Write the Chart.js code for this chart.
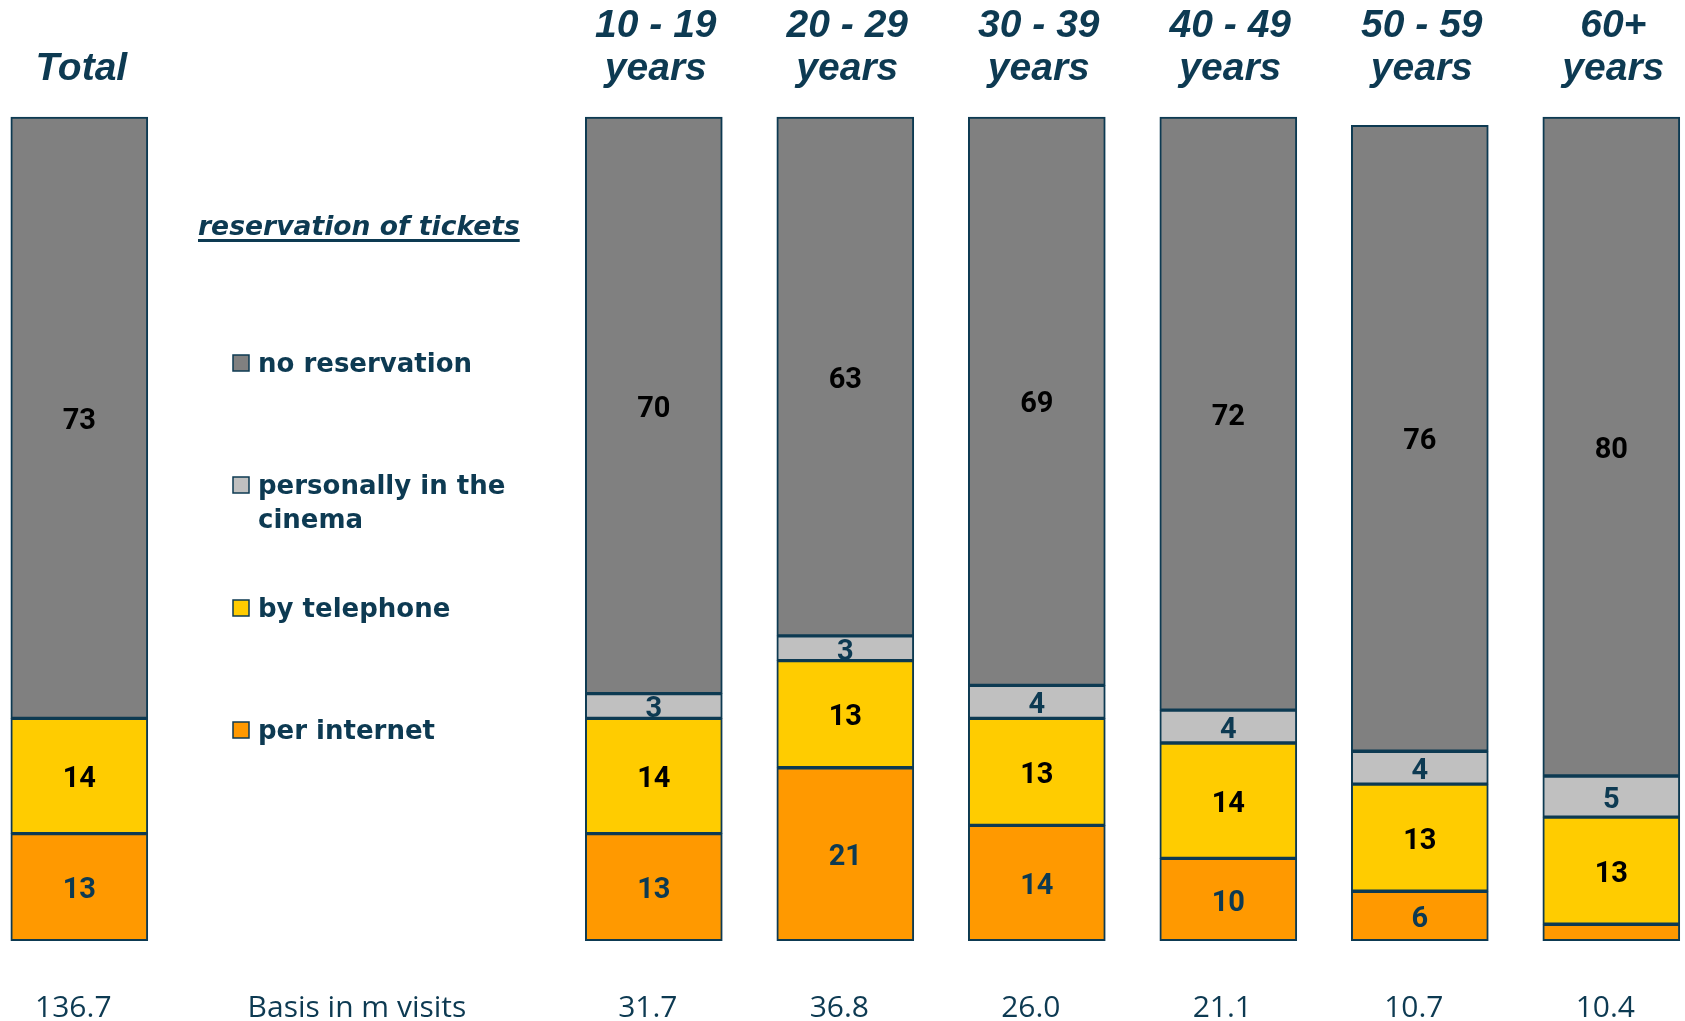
<!DOCTYPE html>
<html>
<head>
<meta charset="utf-8">
<title>Reservation of tickets by age</title>
<script src="https://cdn.jsdelivr.net/npm/chart.js@4.4.1/dist/chart.umd.min.js"></script>
<style>
  html, body { margin: 0; padding: 0; background: #fff; overflow: hidden; }
  #wrap { width: 1685px; height: 1021px; position: relative; }
</style>
</head>
<body>
<div id="wrap"><canvas id="chart"></canvas></div>
<script>
const groups = ["Total", "10 - 19", "20 - 29", "30 - 39", "40 - 49", "50 - 59", "60+"];
const noReservation = [73, 70, 63, 69, 72, 76, 80];
const personally = [0, 3, 3, 4, 4, 4, 5];
const byTelephone = [14, 14, 13, 13, 14, 13, 13];
const perInternet = [13, 13, 21, 14, 10, 6, 2];
const basis = ["136.7", "31.7", "36.8", "26.0", "21.1", "10.7", "10.4"];

const NAVY = "#0d3a52";

// two empty slots after "Total" keep room for the legend
function spread(arr, blank) {
  return [arr[0], blank, blank, ...arr.slice(1)];
}

const slots = spread(groups, "");

function series(label, values, color, labelColor) {
  return {
    label,
    data: spread(values, null),
    backgroundColor: color,
    borderColor: NAVY,
    borderWidth: 2,
    borderSkipped: false,
    barThickness: 137,
    clip: false,
    labelColor
  };
}

// bottom to top
const datasets = [
  series("per internet", perInternet, "#ff9900", NAVY),
  series("by telephone", byTelephone, "#ffcc00", "#000"),
  series("personally in the cinema", personally, "#c0c0c0", NAVY),
  series("no reservation", noReservation, "#808080", "#000")
];

const segmentLabels = {
  id: "segmentLabels",
  afterDatasetsDraw(chart) {
    const ctx = chart.ctx;
    ctx.save();
    ctx.font = "bold 29px Roboto";
    ctx.textAlign = "center";
    ctx.textBaseline = "middle";
    chart.data.datasets.forEach((ds, i) => {
      chart.getDatasetMeta(i).data.forEach((bar, j) => {
        const v = ds.data[j];
        if (v == null || v < 3) return;
        ctx.fillStyle = ds.labelColor;
        ctx.fillText(v, bar.x, (bar.y + bar.base) / 2 + 4);
      });
    });
    ctx.restore();
  }
};

const headers = {
  id: "headers",
  afterDraw(chart) {
    const ctx = chart.ctx;
    const x = chart.scales.x;
    ctx.save();
    ctx.fillStyle = NAVY;
    ctx.textAlign = "center";
    ctx.textBaseline = "alphabetic";
    ctx.font = "italic bold 39px 'Liberation Sans'";
    slots.forEach((name, i) => {
      if (!name) return;
      const px = x.getPixelForValue(i);
      if (name === "Total") {
        ctx.fillText(name, px + 2, 80);
      } else {
        ctx.fillText(name, px + 2, 37);
        ctx.fillText("years", px + 2, 80);
      }
    });

    // visit basis under each column
    ctx.font = "30px 'Open Sans'";
    spread(basis, null).forEach((b, i) => {
      if (b == null) return;
      ctx.fillText(b, x.getPixelForValue(i) - 6, 1017);
    });
    ctx.fillText("Basis in m visits", x.getPixelForValue(1.45), 1017);
    ctx.restore();
  }
};

const sideLegend = {
  id: "sideLegend",
  afterDraw(chart) {
    const ctx = chart.ctx;
    ctx.save();
    ctx.fillStyle = NAVY;
    ctx.textBaseline = "alphabetic";
    ctx.textAlign = "left";

    const title = "reservation of tickets";
    ctx.font = "italic bold 26.6px 'DejaVu Sans'";
    ctx.fillText(title, 198, 235);
    const w = ctx.measureText(title).width;
    ctx.fillRect(198, 239, w, 3);

    const items = [
      { ds: 3, lines: ["no reservation"], y: 363 },
      { ds: 2, lines: ["personally in the", "cinema"], y: 485 },
      { ds: 1, lines: ["by telephone"], y: 608 },
      { ds: 0, lines: ["per internet"], y: 730 }
    ];
    ctx.font = "bold 26px 'DejaVu Sans'";
    items.forEach(it => {
      const ds = chart.data.datasets[it.ds];
      ctx.fillStyle = ds.backgroundColor;
      ctx.fillRect(233, it.y - 8, 16, 16);
      ctx.strokeStyle = NAVY;
      ctx.lineWidth = 1.5;
      ctx.strokeRect(233, it.y - 8, 16, 16);
      ctx.fillStyle = NAVY;
      it.lines.forEach((line, k) => {
        ctx.fillText(line, 258, it.y + 9 + k * 34);
      });
    });
    ctx.restore();
  }
};

new Chart(document.getElementById("chart"), {
  type: "bar",
  data: { labels: slots, datasets },
  options: {
    responsive: true,
    maintainAspectRatio: false,
    animation: false,
    layout: { padding: { left: 79.3, right: 73.7, top: 117, bottom: 80.3 } },
    plugins: {
      legend: { display: false },
      tooltip: { enabled: false }
    },
    scales: {
      x: { stacked: true, offset: false, display: false },
      y: { stacked: true, min: 0, max: 100, display: false }
    }
  },
  plugins: [segmentLabels, headers, sideLegend]
});
</script>
</body>
</html>
